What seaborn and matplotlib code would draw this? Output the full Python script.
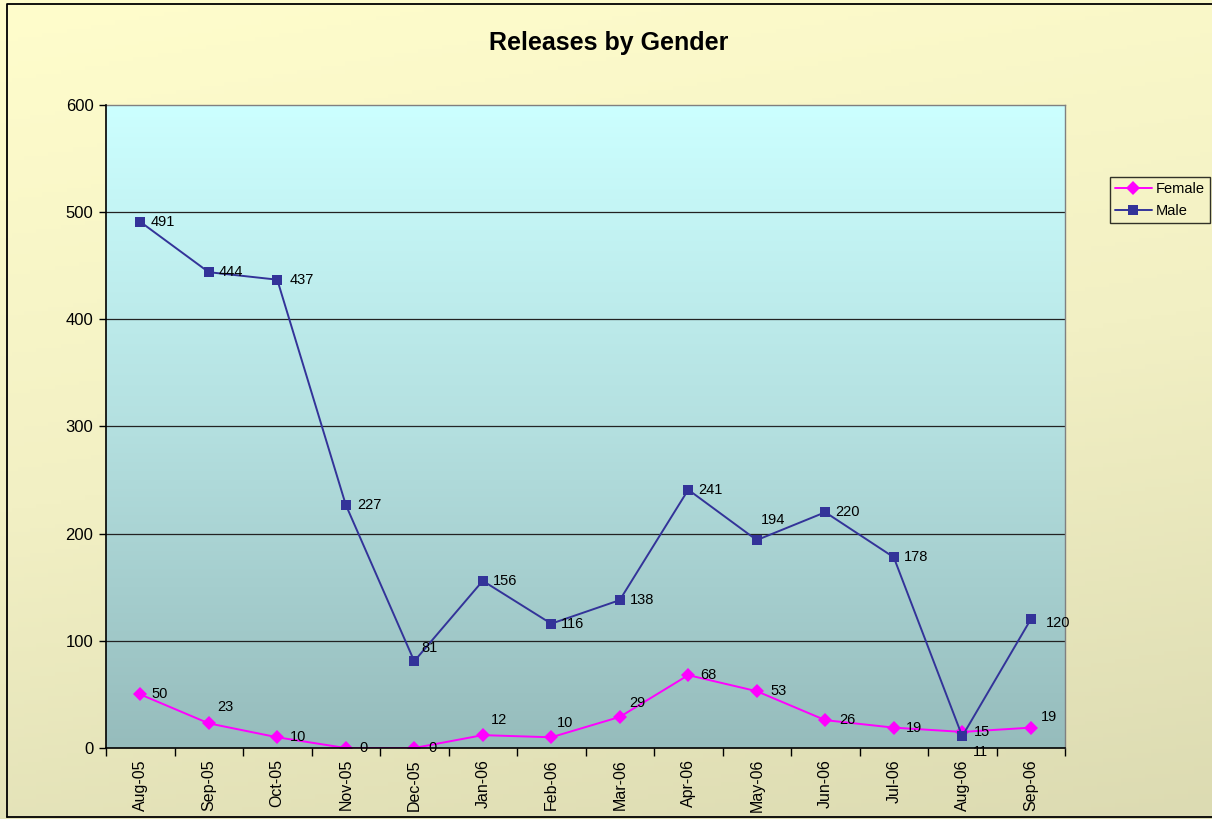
import numpy as np
import pandas as pd
import matplotlib
matplotlib.use("Agg")
import matplotlib.pyplot as plt
import seaborn as sns
from matplotlib.colors import LinearSegmentedColormap

months = ["Aug-05", "Sep-05", "Oct-05", "Nov-05", "Dec-05", "Jan-06", "Feb-06",
          "Mar-06", "Apr-06", "May-06", "Jun-06", "Jul-06", "Aug-06", "Sep-06"]
female = [50, 23, 10, 0, 0, 12, 10, 29, 68, 53, 26, 19, 15, 19]
male = [491, 444, 437, 227, 81, 156, 116, 138, 241, 194, 220, 178, 11, 120]
y_ticks = [0, 100, 200, 300, 400, 500, 600]

# label offsets (pixels) - style only
female_off = [(11, 0), (8, 16), (13, 0), (14, 0), (14, 0), (8, 15), (6, 14), (9, 14),
              (12, 0), (14, 0), (14, 0), (12, 0), (12, 0), (10, 11)]
male_off = [(10, 0), (10, 0), (12, 0), (12, 0), (7, 13), (10, 0), (10, 0), (10, 0),
            (10, 0), (4, 20), (10, 0), (10, 0), (11, -16), (15, -4)]

df = pd.DataFrame({
    "Month": months * 2,
    "Releases": female + male,
    "Gender": ["Female"] * len(months) + ["Male"] * len(months),
})

sns.set_theme(style="white")
plt.rcParams["font.family"] = ["Liberation Sans", "DejaVu Sans"]
plt.rcParams["text.color"] = "black"
plt.rcParams["xtick.color"] = "black"
plt.rcParams["ytick.color"] = "black"
plt.rcParams["xtick.labelcolor"] = "black"
plt.rcParams["ytick.labelcolor"] = "black"

W, H = 1212, 819
fig = plt.figure(figsize=(W / 100, H / 100), dpi=100)

# figure background gradient
bg = fig.add_axes([0, 0, 1, 1], zorder=-10)
yy, xx = np.mgrid[0:1:200j, 0:1:200j]
t = 0.8 * yy + 0.2 * xx
cmap_bg = LinearSegmentedColormap.from_list("bg", ["#FFFDCC", "#F2F0C4", "#DCDBB2"])
bg.imshow(t, cmap=cmap_bg, aspect="auto", extent=[0, 1, 0, 1], origin="upper")
bg.plot([7 / W, 7 / W, 1.01], [1 - 817 / H, 1 - 4 / H, 1 - 4 / H], color="black", lw=1.3,
        transform=bg.transAxes)
bg.plot([7 / W, 1.01], [1 - 817 / H, 1 - 817 / H], color="black", lw=1.3, transform=bg.transAxes)
bg.set_xlim(0, 1)
bg.set_ylim(0, 1)
bg.axis("off")

ax = fig.add_axes([106 / W, 1 - 748 / H, (1065 - 106) / W, (748 - 105) / H])
n = len(months)

# plot area gradient (top light cyan -> bottom grey teal)
grad = np.linspace(0, 1, 256).reshape(-1, 1)
cmap_pa = LinearSegmentedColormap.from_list("pa", ["#CCFFFF", "#B4E0E0", "#96BCBC"])
ax.imshow(grad, cmap=cmap_pa, aspect="auto", extent=[-0.5, n - 0.5, 0, 600],
          origin="upper", zorder=0)
ax.set_xlim(-0.5, n - 0.5)
ax.set_ylim(0, 600)

for yv in y_ticks[1:-1]:
    ax.axhline(yv, color="#222222", lw=0.9, zorder=1)

palette = {"Female": "#FF00FF", "Male": "#333399"}
sns.lineplot(data=df, x="Month", y="Releases", hue="Gender", style="Gender",
             markers={"Female": "D", "Male": "s"}, dashes=False, palette=palette,
             sort=False, ax=ax, lw=1.4, markersize=7, markeredgewidth=0,
             legend=True, zorder=3)

for i, v in enumerate(male):
    ax.annotate(str(v), (i, v), xytext=male_off[i], textcoords="offset pixels",
                ha="left", va="center", fontsize=10.5, color="black", zorder=5)
for i, v in enumerate(female):
    ax.annotate(str(v), (i, v), xytext=female_off[i], textcoords="offset pixels",
                ha="left", va="center", fontsize=10.5, color="black", zorder=5)

ax.set_xticks(range(n))
ax.set_xticklabels(months, rotation=90, fontsize=11.5, color="black")
ax.set_xticks(np.arange(-0.5, n, 1), minor=True)
ax.tick_params(axis="x", which="major", length=0, pad=8)
ax.tick_params(axis="x", which="minor", length=6, width=1, color="black", direction="out", bottom=True)
ax.set_yticks(y_ticks)
ax.set_yticklabels([str(v) for v in y_ticks], fontsize=12, color="black")
ax.tick_params(axis="y", which="major", length=5, width=1, color="black", direction="out", left=True, pad=4)
ax.set_xlabel("")
ax.set_ylabel("")

for s in ["left", "bottom"]:
    ax.spines[s].set_color("black")
    ax.spines[s].set_linewidth(1.2)
for s in ["top", "right"]:
    ax.spines[s].set_color("#808080")
    ax.spines[s].set_linewidth(1.0)
ax.spines["left"].set_zorder(6)
ax.spines["bottom"].set_zorder(6)

handles, labels = ax.get_legend_handles_labels()
ax.get_legend().remove()
leg = fig.legend(handles, labels, loc="upper left",
                 bbox_to_anchor=(1110 / W, 1 - 177 / H), frameon=True, fontsize=10.5,
                 handlelength=2.5, borderpad=0.35, labelspacing=0.55, handletextpad=0.3,
                 borderaxespad=0, fancybox=False, labelcolor="black")
leg.get_frame().set_edgecolor("black")
leg.get_frame().set_facecolor("none")
leg.get_frame().set_linewidth(1.0)

fig.text(609 / W, 1 - 43 / H, "Releases by Gender", ha="center", va="center",
         fontsize=18, fontweight="bold", color="black")

fig.savefig("out.png", dpi=100)
